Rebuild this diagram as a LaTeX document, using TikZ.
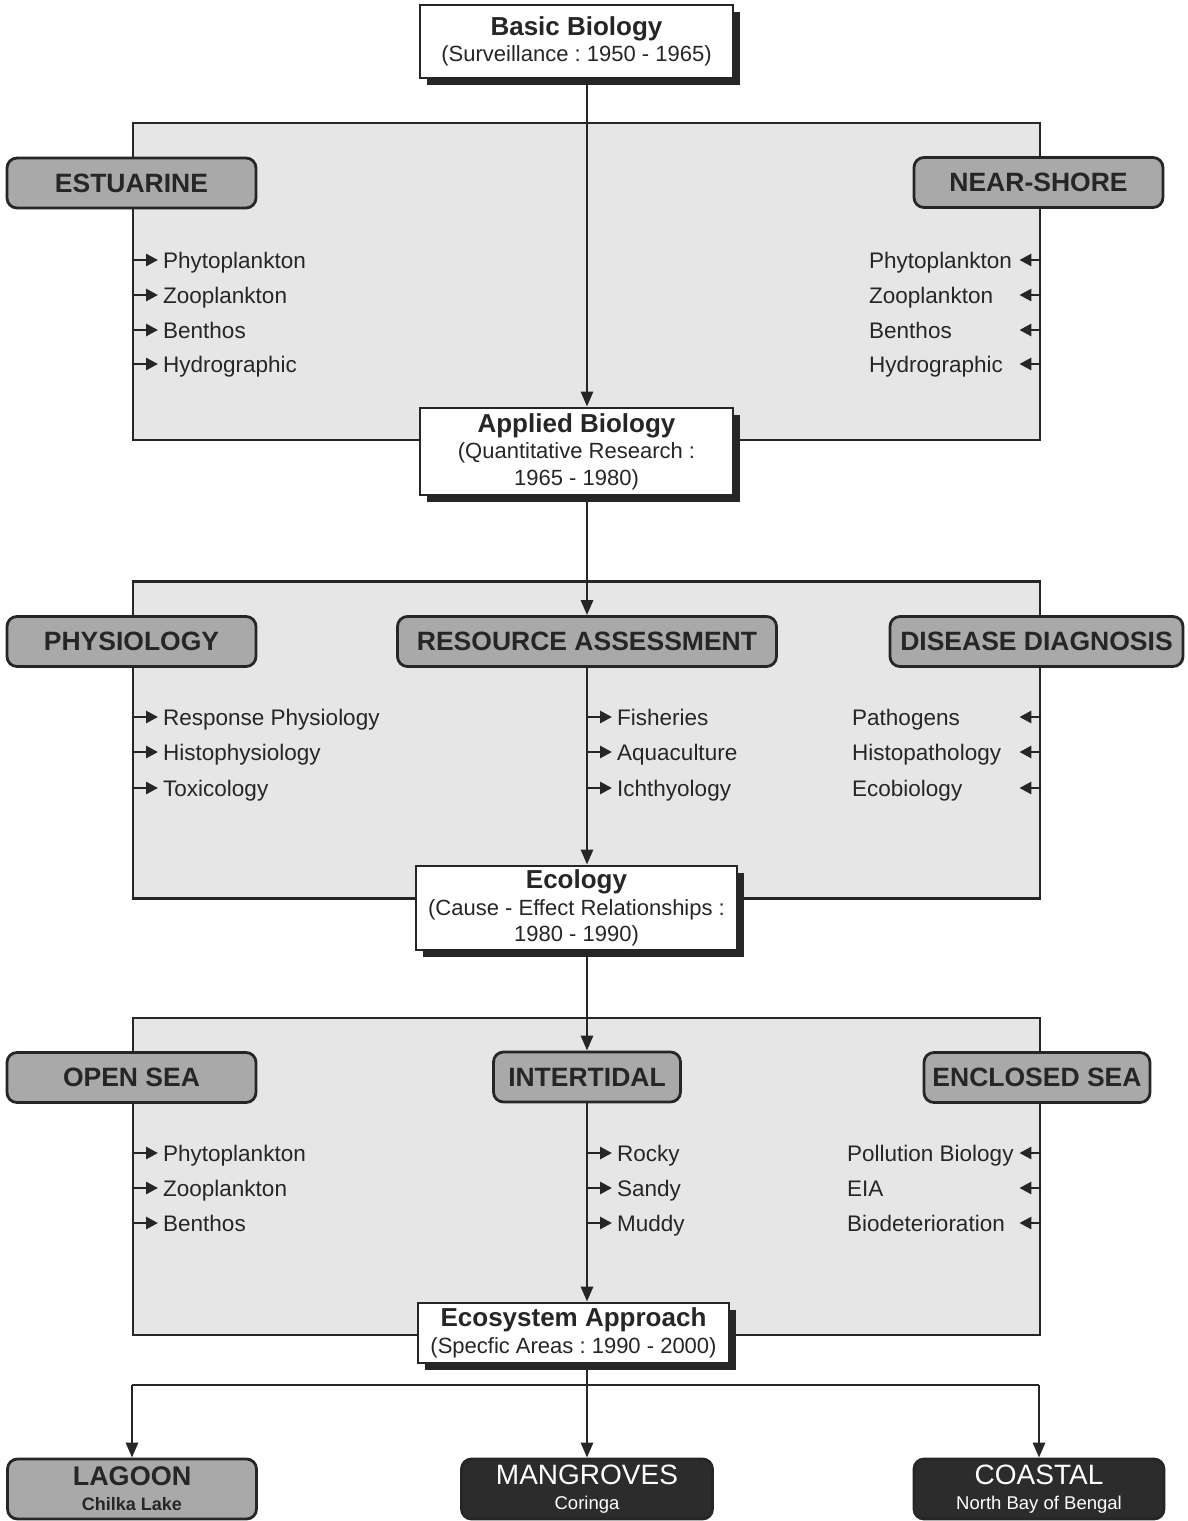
\documentclass[tikz,border=0pt]{standalone}
\usepackage{fontspec}
\setmainfont{Liberation Sans}
\usetikzlibrary{arrows.meta,shadows}
\definecolor{ink}{HTML}{262626}
\definecolor{panelgray}{HTML}{E6E6E6}
\definecolor{pillgray}{HTML}{A9A9A9}
\definecolor{darkpill}{HTML}{2C2C2C}
\newcommand\ttlline[1]{{\fontsize{26}{27}\selectfont\bfseries #1}}
\frenchspacing
\begin{document}
\frenchspacing
\begin{tikzpicture}[x=1pt,y=-1pt,
  panel/.style={draw=ink, line width=2.8pt, fill=panelgray, minimum width=907pt, minimum height=317pt, inner sep=0pt},
  pill/.style={draw=ink, line width=2.8pt, fill=pillgray, rounded corners=10pt, minimum height=50pt, inner sep=0pt, text=ink, font=\fontsize{26.5}{30}\selectfont\bfseries},
  darkpillbox/.style={draw=ink, line width=2.8pt, fill=darkpill, rounded corners=10pt, minimum height=60pt, inner sep=0pt, text=white, align=center, font=\fontsize{18.5}{25}\selectfont},
  lightpillbox/.style={darkpillbox, fill=pillgray, text=ink, font=\fontsize{18}{25}\selectfont\bfseries},
  titlebox/.style={draw=ink, line width=2.8pt, fill=white, align=center, inner sep=0pt, text=ink, font=\fontsize{22}{26.5}\selectfont, general shadow={fill=ink, shadow xshift=7pt, shadow yshift=-7pt}},
  item/.style={anchor=west, inner xsep=5pt, inner ysep=0pt, text height=17pt, text depth=1pt, text=ink, font=\fontsize{22.5}{26}\selectfont},
  ritem/.style={item, inner xsep=0pt},
  conn/.style={draw=ink, line width=2.8pt},
  mainarr/.style={conn, -{Triangle[length=15pt,width=12pt]}},
  itemarr/.style={conn, -{Triangle[length=12pt,width=12pt]}},
]
\useasboundingbox (0,0) rectangle (1187,1521);
\fill[white] (0,0) rectangle (1187,1521);

% panels
\node[panel] (p1) at (586.5,281.5) {};
\node[panel] (p2) at (586.5,740) {};
\node[panel] (p3) at (586.5,1176.5) {};

\coordinate (ax) at (587,0);

% title boxes
\node[titlebox, minimum width=313pt, minimum height=73pt] (bb) at (576.5,41.5)
  {\ttlline{Basic Biology}\\(Surveillance : 1950 - 1965)};
\node[titlebox, minimum width=313pt, minimum height=87pt] (ab) at (576.5,451.5)
  {\ttlline{Applied Biology}\\(Quantitative Research :\\1965 - 1980)};
\node[titlebox, minimum width=321pt, minimum height=84pt] (eco) at (576.5,908)
  {\ttlline{Ecology}\\(Cause - Effect Relationships :\\1980 - 1990)};
\node[titlebox, minimum width=311pt, minimum height=60pt] (es) at (573.5,1333)
  {\ttlline{Ecosystem Approach}\\(Specfic Areas : 1990 - 2000)};

% pills
\node[pill, minimum width=249pt] (est) at (131.5,183) {ESTUARINE};
\node[pill, minimum width=249pt] (ns) at (1038.5,182.5) {NEAR-SHORE};
\node[pill, minimum width=249pt] (phy) at (131.5,641.5) {PHYSIOLOGY};
\node[pill, minimum width=379pt] (ra) at (587,641.5) {RESOURCE ASSESSMENT};
\node[pill, minimum width=293pt] (dd) at (1036.5,641.5) {DISEASE DIAGNOSIS};
\node[pill, minimum width=249pt] (os) at (131.5,1077.5) {OPEN SEA};
\node[pill, minimum width=187pt] (it) at (587,1077) {INTERTIDAL};
\node[pill, minimum width=226pt] (ens) at (1037,1077.5) {ENCLOSED SEA};

% bottom pills
\node[lightpillbox, minimum width=249pt] (lag) at (132,1489)
  {{\fontsize{27}{25}\selectfont\bfseries LAGOON}\\Chilka Lake};
\node[darkpillbox, minimum width=251pt] (man) at (587,1489)
  {{\fontsize{28}{25}\selectfont MANGROVES}\\Coringa};
\node[darkpillbox, minimum width=250pt] (coa) at (1039,1489)
  {{\fontsize{28}{25}\selectfont COASTAL}\\North Bay of Bengal};

% main flow
\draw[mainarr] (bb.south -| ax) -- (ab.north -| ax);
\draw[mainarr] (ab.south -| ax) -- (ra.north);
\draw[mainarr] (ra.south) -- (eco.north -| ax);
\draw[mainarr] (eco.south -| ax) -- (it.north);
\draw[mainarr] (it.south) -- (es.north -| ax);

% panel 1 items
\foreach \t/\y [count=\i] in {Phytoplankton/260, Zooplankton/295, Benthos/330, Hydrographic/364} {
  \node[item] (e\i) at (158,\y) {\t};
  \draw[itemarr] (p1.west |- e\i.west) -- (e\i.west);
}
\foreach \t/\y [count=\i] in {Phytoplankton/260, Zooplankton/295, Benthos/330, Hydrographic/364} {
  \node[ritem] (n\i) at (869,\y) {\t};
  \draw[itemarr] (p1.east |- n\i.west) -- ++(-22,0);
}

% panel 2 items
\foreach \t/\y [count=\i] in {Response Physiology/717, Histophysiology/752, Toxicology/788} {
  \node[item] (ph\i) at (158,\y) {\t};
  \draw[itemarr] (p2.west |- ph\i.west) -- (ph\i.west);
}
\foreach \t/\y [count=\i] in {Fisheries/717, Aquaculture/752, Ichthyology/788} {
  \node[item] (f\i) at (612,\y) {\t};
  \draw[itemarr] (ra.south |- f\i.west) -- (f\i.west);
}
\foreach \t/\y [count=\i] in {Pathogens/717, Histopathology/752, Ecobiology/788} {
  \node[ritem] (d\i) at (852,\y) {\t};
  \draw[itemarr] (p2.east |- d\i.west) -- ++(-22,0);
}

% panel 3 items
\foreach \t/\y [count=\i] in {Phytoplankton/1153, Zooplankton/1188, Benthos/1223} {
  \node[item] (o\i) at (158,\y) {\t};
  \draw[itemarr] (p3.west |- o\i.west) -- (o\i.west);
}
\foreach \t/\y [count=\i] in {Rocky/1153, Sandy/1188, Muddy/1223} {
  \node[item] (r\i) at (612,\y) {\t};
  \draw[itemarr] (it.south |- r\i.west) -- (r\i.west);
}
\foreach \t/\y [count=\i] in {Pollution Biology/1153, EIA/1188, Biodeterioration/1223} {
  \node[ritem] (c\i) at (847,\y) {\t};
  \draw[itemarr] (p3.east |- c\i.west) -- ++(-22,0);
}

% bottom distribution
\coordinate (bus) at (587,1385);
\draw[conn] (es.south -| ax) -- (bus);
\draw[conn] (lag.north |- bus) -- (coa.north |- bus);
\draw[mainarr] (lag.north |- bus) -- (lag.north);
\draw[mainarr] (bus) -- (man.north);
\draw[mainarr] (coa.north |- bus) -- (coa.north);
\end{tikzpicture}
\end{document}
